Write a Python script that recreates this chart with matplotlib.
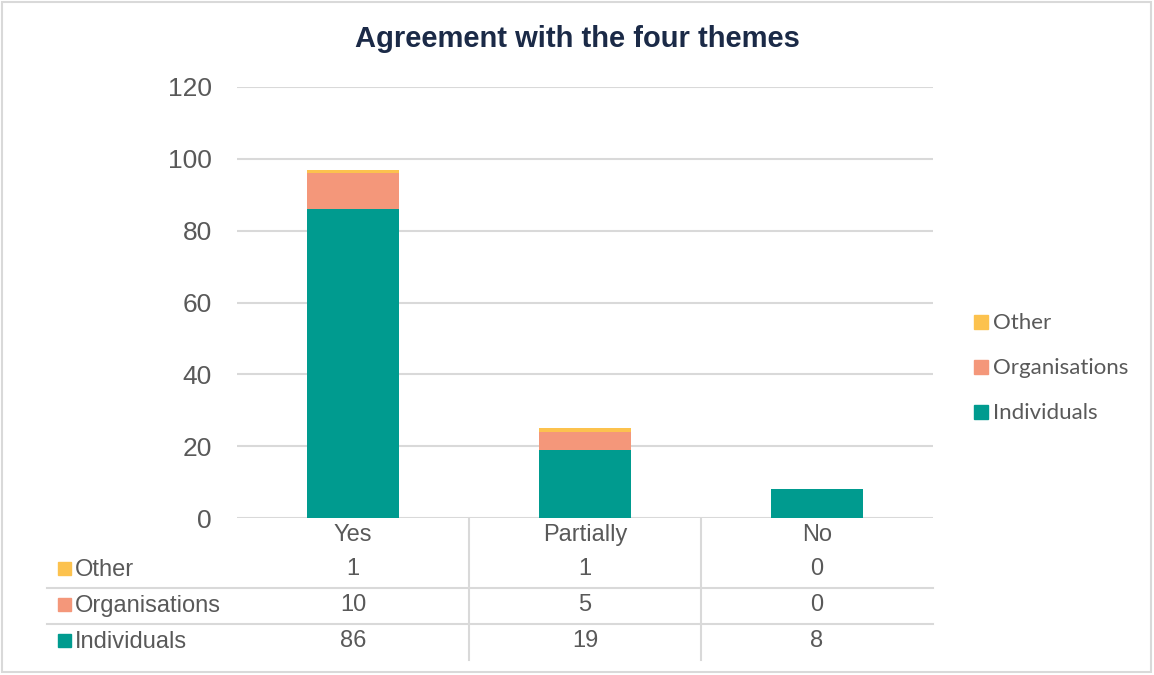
import matplotlib
matplotlib.use("Agg")
import matplotlib.pyplot as plt
from matplotlib.patches import Rectangle

categories = ["Yes", "Partially", "No"]
series_names = ["Individuals", "Organisations", "Other"]
individuals = [86, 19, 8]
organisations = [10, 5, 0]
other = [1, 1, 0]
y_ticks = [0, 20, 40, 60, 80, 100, 120]

colors = {"Individuals": "#009B8F", "Organisations": "#F4977A", "Other": "#FCC24E"}
values = {"Individuals": individuals, "Organisations": organisations, "Other": other}
text_gray = "#595959"
grid_gray = "#D9D9D9"

W, H = 1154, 675
fig = plt.figure(figsize=(W / 100, H / 100), dpi=100)

# overlay in pixel coordinates for border, table and legend
bg = fig.add_axes([0, 0, 1, 1])
bg.set_xlim(0, W)
bg.set_ylim(H, 0)
bg.axis("off")
bg.add_patch(Rectangle((2, 2), W - 5, H - 5, fill=False, edgecolor=grid_gray, linewidth=1.5))

left, right, top, bottom = 237, 933, 87, 518
ax = fig.add_axes([left / W, 1 - bottom / H, (right - left) / W, (bottom - top) / H])
x = range(len(categories))
base = [0] * len(categories)
for name in series_names:
    ax.bar(x, values[name], bottom=base, width=0.4, color=colors[name], zorder=3)
    base = [b + v for b, v in zip(base, values[name])]

ax.set_xlim(-0.5, len(categories) - 0.5)
ax.set_ylim(0, 120)
ax.set_yticks(y_ticks)
ax.set_yticklabels([str(t) for t in y_ticks], fontsize=19, color=text_gray, family="Liberation Sans")
ax.tick_params(axis="y", length=0, pad=18)
ax.set_xticks([])
ax.grid(axis="y", color=grid_gray, linewidth=1.5, zorder=0)
for s in ax.spines.values():
    s.set_visible(False)

fig.text(0.5, 1 - 39 / H, "Agreement with the four themes", ha="center", va="center",
         fontsize=21, fontweight="bold", color="#1B2A47", family="Liberation Sans")

# data table under the axis
col_w = (right - left) / len(categories)
centers = [left + (i + 0.5) * col_w for i in range(len(categories))]
for i, c in enumerate(categories):
    bg.text(centers[i], 535, c, ha="center", va="center", fontsize=17, color=text_gray,
            family="Liberation Sans")
for i in range(1, len(categories)):
    xv = left + i * col_w
    bg.plot([xv, xv], [518, 660], color=grid_gray, linewidth=1.5)
for yl in [588, 624]:
    bg.plot([47, right], [yl, yl], color=grid_gray, linewidth=1.5)

row_y = {"Other": 568, "Organisations": 604, "Individuals": 640}
for name in ["Other", "Organisations", "Individuals"]:
    y = row_y[name]
    bg.add_patch(Rectangle((58, y - 6), 13, 13, color=colors[name]))
    bg.text(75, y + 2, name, ha="left", va="center", fontsize=17, color=text_gray,
            family="Liberation Sans")
    for i, v in enumerate(values[name]):
        bg.text(centers[i], y + 1, str(v), ha="center", va="center", fontsize=17,
                color=text_gray, family="Liberation Sans")

# legend on the right
leg_y = {"Other": 322, "Organisations": 367, "Individuals": 412}
for name in ["Other", "Organisations", "Individuals"]:
    y = leg_y[name]
    bg.add_patch(Rectangle((974, y - 7), 14, 14, color=colors[name]))
    bg.text(993, y + 1, name, ha="left", va="center", fontsize=16, color=text_gray, family="Lato")

fig.savefig("out.png", dpi=100)
